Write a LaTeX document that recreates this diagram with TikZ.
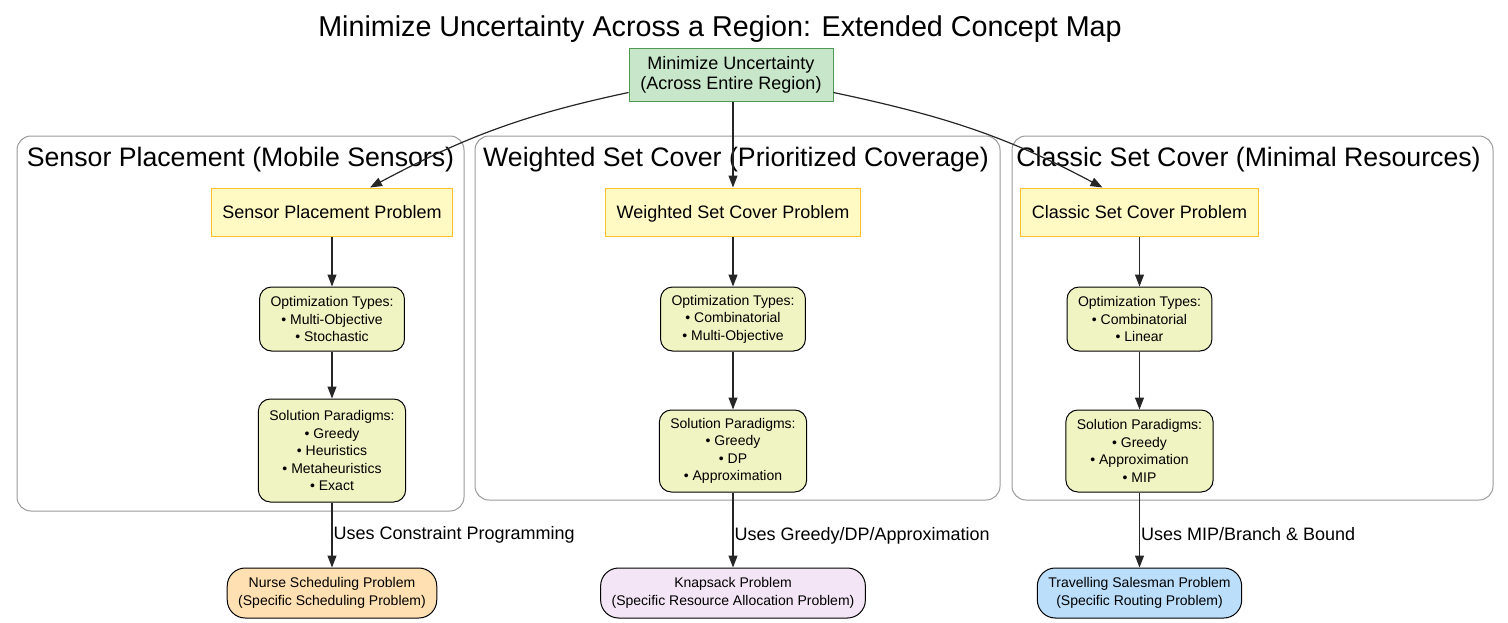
\documentclass[tikz,border=0pt]{standalone}
\usepackage{fontspec}
\setmainfont{Liberation Sans}
\usetikzlibrary{positioning,arrows.meta}

\definecolor{goalfill}{HTML}{C8E6C9}
\definecolor{goalline}{HTML}{4E9A52}
\definecolor{probfill}{HTML}{FFF9C4}
\definecolor{probline}{HTML}{FBC02D}
\definecolor{infofill}{HTML}{F0F4C3}
\definecolor{nursefill}{HTML}{FFE0B2}
\definecolor{knapfill}{HTML}{F3E5F5}
\definecolor{tspfill}{HTML}{BBDEFB}
\definecolor{clusterline}{HTML}{999999}

\begin{document}
\begin{tikzpicture}[x=1pt, y=-1pt]
\tikzstyle{goal}=[rectangle, draw=goalline, fill=goalfill, line width=1pt, minimum width=204pt, minimum height=53pt, align=center, font=\fontsize{18}{20}\selectfont]
\tikzstyle{problem}=[rectangle, draw=probline, fill=probfill, line width=1pt, minimum height=48pt, inner xsep=11pt, text height=16pt, text depth=3pt, font=\fontsize{18}{21}\selectfont]
\tikzstyle{info}=[rectangle, rounded corners=12pt, draw=black, fill=infofill, line width=1pt, align=center, inner xsep=11pt, minimum width=144pt, font=\fontsize{14}{17.5}\selectfont]
\tikzstyle{specific}=[rectangle, rounded corners=18pt, draw=black, line width=1pt, align=center, inner xsep=11pt, minimum height=50pt, font=\fontsize{14}{17.5}\selectfont]
\tikzstyle{cluster}=[rectangle, rounded corners=14pt, draw=clusterline, line width=1pt]
\tikzstyle{clustertitle}=[anchor=base, font=\fontsize{26.7}{30}\selectfont]
\tikzstyle{connect}=[-{Triangle[length=12pt,width=9pt]}, line width=1.2pt, draw=black!85]
\tikzstyle{edgelabel}=[right, inner sep=1pt, font=\fontsize{18}{21}\selectfont]

\useasboundingbox (0,0) rectangle (1508,622);

% 1. Title
%%%%%%%%%
\node[anchor=base, font=\fontsize{28.7}{32}\selectfont] (title) at (720,36) {Minimize Uncertainty Across a Region: Extended Concept Map};

% 2. Clusters
%%%%%%%%%%%%%
\node[cluster, minimum width=447pt, minimum height=375pt] (c1) at (240.5,323.5) {};
\node[cluster, minimum width=525pt, minimum height=364pt] (c2) at (737.5,318) {};
\node[cluster, minimum width=481pt, minimum height=364pt] (c3) at (1252.5,318) {};
\node[clustertitle] (c1title) at (240.5,166) {Sensor Placement (Mobile Sensors)};
\node[clustertitle] (c2title) at (736,166) {Weighted Set Cover (Prioritized Coverage)};
\node[clustertitle] (c3title) at (1248.5,166) {Classic Set Cover (Minimal Resources)};

% 3. Nodes
%%%%%%%%%%
\node[goal] (goal) at (731,74.5) {Minimize Uncertainty\\(Across Entire Region)};

\node[problem] (sp) at (332,212) {Sensor Placement Problem};
\node[info, minimum height=64pt] (spopt) [below=50pt of sp] {Optimization Types:\\• Multi-Objective\\• Stochastic};
\node[info, minimum height=103pt] (spsol) [below=47pt of spopt] {Solution Paradigms:\\• Greedy\\• Heuristics\\• Metaheuristics\\• Exact};

\node[problem] (wp) at (733,212) {Weighted Set Cover Problem};
\node[info, minimum height=64pt] (wpopt) [below=50pt of wp] {Optimization Types:\\• Combinatorial\\• Multi-Objective};
\node[info, minimum height=82pt] (wpsol) [below=58pt of wpopt] {Solution Paradigms:\\• Greedy\\• DP\\• Approximation};

\node[problem] (cp) at (1139.5,212) {Classic Set Cover Problem};
\node[info, minimum height=64pt] (cpopt) [below=50pt of cp] {Optimization Types:\\• Combinatorial\\• Linear};
\node[info, minimum height=82pt] (cpsol) [below=58pt of cpopt] {Solution Paradigms:\\• Greedy\\• Approximation\\• MIP};

\node[specific, fill=nursefill] (nurse) at (332,593) {Nurse Scheduling Problem\\(Specific Scheduling Problem)};
\node[specific, fill=knapfill] (knap) at (733,593) {Knapsack Problem\\(Specific Resource Allocation Problem)};
\node[specific, fill=tspfill] (tsp) at (1139.5,593) {Travelling Salesman Problem\\(Specific Routing Problem)};

% 4. Arrows
%%%%%%%%%%%
\draw[connect] ([yshift=9pt]goal.south west) to[out=192, in=28] ([xshift=38pt]sp.north);
\draw[connect] (wp.north |- goal.south) -- (wp);
\draw[connect] ([yshift=9pt]goal.south east) to[out=-12, in=152] ([xshift=-37pt]cp.north);

\path (sp)    edge [connect] (spopt)
      (spopt) edge [connect] (spsol)
      (wp)    edge [connect] (wpopt)
      (wpopt) edge [connect] (wpsol)
      (cp)    edge [connect] (cpopt)
      (cpopt) edge [connect] (cpsol);

\path (spsol) edge [connect] node[edgelabel] {Uses Constraint Programming} (nurse)
      (wpsol) edge [connect] node[edgelabel, pos=0.58] {Uses Greedy/DP/Approximation} (knap)
      (cpsol) edge [connect] node[edgelabel, pos=0.56] {Uses MIP/Branch \& Bound} (tsp);

\end{tikzpicture}
\end{document}
